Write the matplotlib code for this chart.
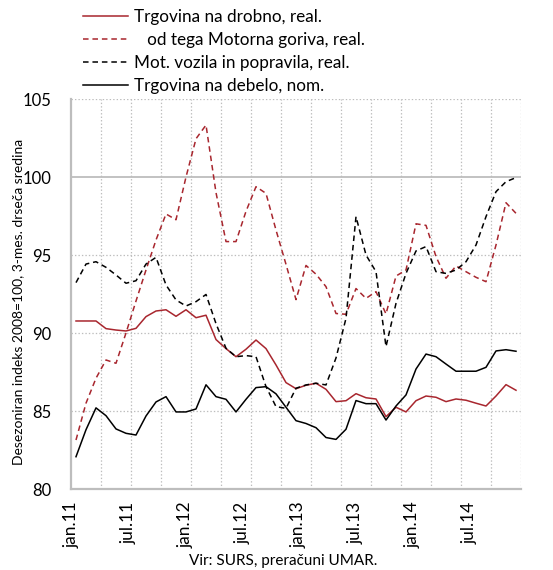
#!/usr/bin/env python3
"""Trade indices 2011-2014: retail, motor fuels, motor vehicles, wholesale."""

import matplotlib

matplotlib.use("Agg")
from matplotlib import pyplot as plt
import numpy as np

# monthly, jan.11 .. sep.14
retail_real = [
    90.77, 90.77, 90.77, 90.28, 90.19, 90.13, 90.30, 91.05, 91.41, 91.49,
    91.07, 91.49, 90.98, 91.14, 89.58, 89.00, 88.48, 88.96, 89.55, 89.00,
    87.95, 86.82, 86.43, 86.65, 86.78, 86.39, 85.60, 85.66, 86.11, 85.85,
    85.77, 84.64, 85.24, 84.94, 85.66, 85.96, 85.88, 85.60, 85.77, 85.69,
    85.50, 85.32, 85.96, 86.69, 86.33,
]
fuels_real = [
    83.14, 85.50, 87.10, 88.27, 88.06, 90.00, 92.05, 94.04, 95.96, 97.63,
    97.26, 100.0, 102.45, 103.33, 99.00, 95.86, 95.86, 97.80, 99.38, 98.95,
    96.60, 94.40, 92.14, 94.33, 93.77, 92.97, 91.25, 91.20, 92.85, 92.22,
    92.65, 91.22, 93.65, 94.04, 97.00, 96.90, 94.90, 93.51, 94.30, 93.93,
    93.57, 93.29, 95.64, 98.35, 97.67,
]
vehicles_real = [
    93.23, 94.42, 94.57, 94.21, 93.72, 93.19, 93.35, 94.42, 94.85, 93.08,
    92.12, 91.73, 92.01, 92.47, 90.60, 89.02, 88.48, 88.55, 88.48, 86.56,
    85.28, 85.17, 86.46, 86.67, 86.78, 86.67, 88.40, 90.94, 97.46, 95.00,
    93.93, 89.13, 91.90, 93.82, 95.26, 95.54, 93.93, 93.82, 94.04, 94.57,
    95.64, 97.46, 99.06, 99.70, 99.96,
]
wholesale_nom = [
    82.07, 83.80, 85.20, 84.70, 83.85, 83.57, 83.46, 84.68, 85.58, 85.92,
    84.94, 84.94, 85.13, 86.68, 85.92, 85.75, 84.94, 85.75, 86.50, 86.56,
    86.10, 85.24, 84.38, 84.20, 83.93, 83.30, 83.18, 83.83, 85.67, 85.47,
    85.47, 84.42, 85.32, 86.03, 87.69, 88.65, 88.48, 88.01, 87.55, 87.55,
    87.55, 87.80, 88.85, 88.93, 88.83,
]
month_labels = ["jan.11", "jul.11", "jan.12", "jul.12", "jan.13", "jul.13", "jan.14", "jul.14"]
y_ticks = [80, 85, 90, 95, 100, 105]

RED = "#a8262e"
GRID = "#bdbdbd"
FONT = "Lato"

plt.rcParams["font.family"] = [FONT, "DejaVu Sans"]
plt.rcParams["lines.scale_dashes"] = False

fig = plt.figure(figsize=(5.53, 5.70), dpi=100)
ax = fig.add_axes([71 / 553, 1 - 489 / 570, 450 / 553, 390 / 570])

x = np.arange(len(retail_real))
dash = (4.0, 2.8)
l1, = ax.plot(x, retail_real, color=RED, lw=1.1, label="Trgovina na drobno, real.")
l2, = ax.plot(x, fuels_real, color=RED, lw=1.1, dashes=dash, label="   od tega Motorna goriva, real.")
l3, = ax.plot(x, vehicles_real, color="black", lw=1.1, dashes=dash, label="Mot. vozila in popravila, real.")
l4, = ax.plot(x, wholesale_nom, color="black", lw=1.1, label="Trgovina na debelo, nom.")

ax.set_xlim(-0.5, len(x) - 0.5)
ax.set_ylim(80, 105)

# dotted grid between categories every 3 months
for gx in np.arange(2.5, len(x), 3):
    ax.axvline(gx, color=GRID, lw=0.9, ls=(0, (1, 1.5)), zorder=0)
for gy in y_ticks[1:]:
    if gy == 100:
        ax.axhline(gy, color=GRID, lw=1.3, zorder=0)
    else:
        ax.axhline(gy, color=GRID, lw=0.9, ls=(0, (1, 1.5)), zorder=0)

for side in ("top", "right"):
    ax.spines[side].set_visible(False)
for side in ("left", "bottom"):
    ax.spines[side].set_color(GRID)
    ax.spines[side].set_linewidth(1.6)

ax.set_yticks(y_ticks)
ax.set_yticklabels([str(v) for v in y_ticks], fontsize=12)
ax.set_xticks(np.arange(len(month_labels)) * 5.68 - 0.42)
ax.set_xticklabels(month_labels, rotation=90, fontsize=12.5)
ax.tick_params(length=0, pad=9)
ax.tick_params(axis="y", pad=14)

fig.text(18 / 553, 1 - 302 / 570, "Desezoniran indeks 2008=100, 3-mes. drseča sredina",
         rotation=90, ha="center", va="center", fontsize=10)
fig.text(283 / 553, 1 - 561 / 570, "Vir: SURS, preračuni UMAR.", ha="center", va="center", fontsize=11)

fig.legend(
    handles=[l1, l2, l3, l4],
    loc="upper left",
    bbox_to_anchor=(83 / 553, 1 - 9 / 570),
    frameon=False,
    fontsize=12.3,
    borderpad=0,
    borderaxespad=0,
    handlelength=2.65,
    handletextpad=0.35,
    labelspacing=0.4,
)

fig.savefig("out.png", dpi=100, facecolor="white")
